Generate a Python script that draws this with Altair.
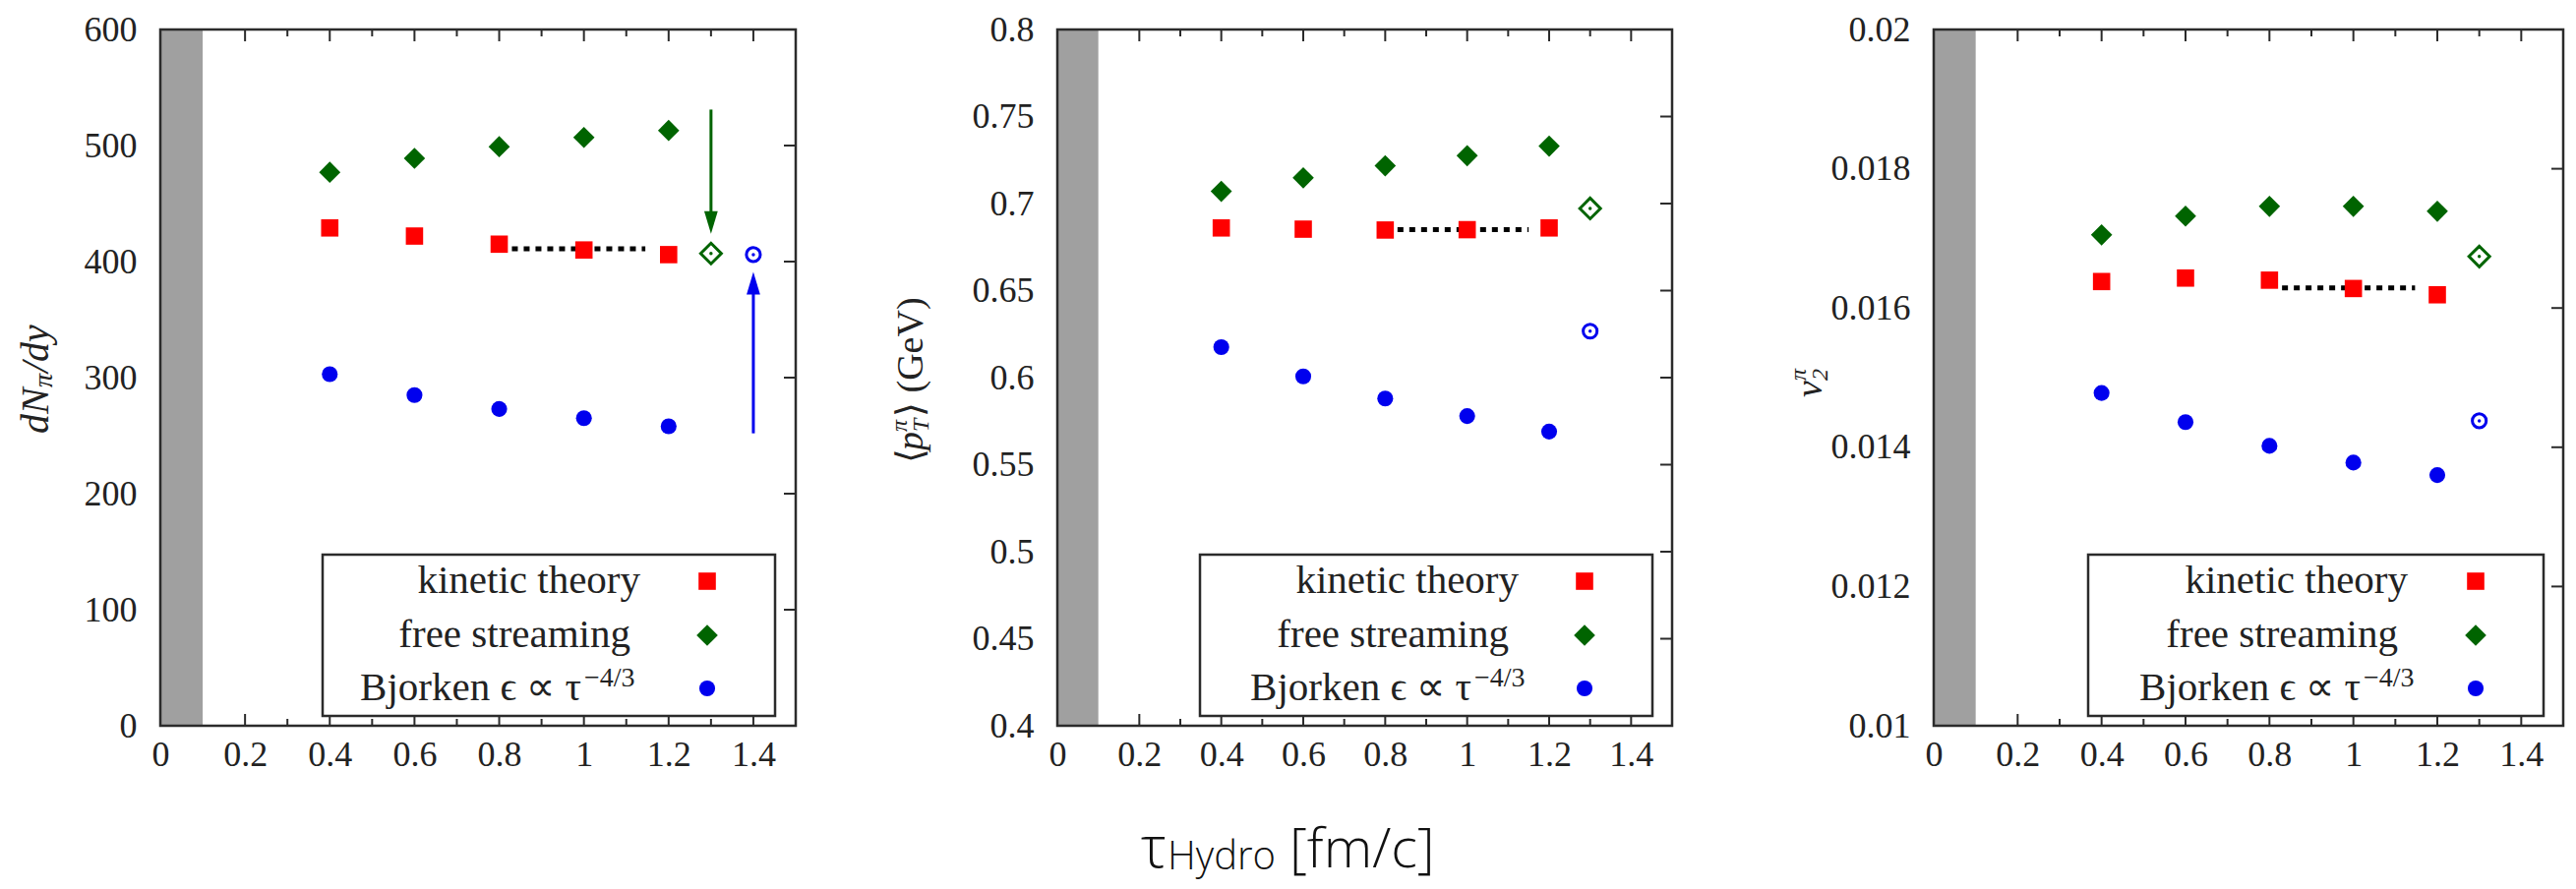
import altair as alt
import pandas as pd

# ---------------- data ----------------
TAU = [0.4, 0.6, 0.8, 1.0, 1.2]

DN_KINETIC = [429, 422, 415, 410, 406]
DN_FREE = [477, 489, 499, 507, 513]
DN_BJORKEN = [303, 285, 273, 265, 258]
DN_OPEN_FREE = [1.3, 407]
DN_OPEN_BJORKEN = [1.4, 406]
DN_DOTTED = [0.83, 1.145, 411]
DN_ARROW_X = [1.3, 1.4]
DN_ARROW_FROM = [531, 252]
DN_ARROW_TO = [424, 391]

PT_KINETIC = [0.686, 0.6853, 0.6848, 0.685, 0.686]
PT_FREE = [0.707, 0.7148, 0.7217, 0.7275, 0.733]
PT_BJORKEN = [0.6175, 0.6007, 0.588, 0.5779, 0.569]
PT_OPEN_FREE = [1.3, 0.6972]
PT_OPEN_BJORKEN = [1.3, 0.6267]
PT_DOTTED = [0.83, 1.15, 0.685]

V2_KINETIC = [0.01638, 0.01643, 0.0164, 0.01628, 0.01619]
V2_FREE = [0.01705, 0.01732, 0.01746, 0.01746, 0.01739]
V2_BJORKEN = [0.01478, 0.01436, 0.01402, 0.01378, 0.0136]
V2_OPEN_FREE = [1.3, 0.01674]
V2_OPEN_BJORKEN = [1.3, 0.01438]
V2_DOTTED = [0.83, 1.147, 0.01629]

X_LABELS = [0, 0.2, 0.4, 0.6, 0.8, 1.0, 1.2, 1.4]
X_MINOR = [0.3, 0.5, 0.7, 0.9, 1.1, 1.3]
X_DOMAIN = [0, 1.5]
BAND = [0, 0.1]

DN_TICKS = [0, 100, 200, 300, 400, 500, 600]
PT_TICKS = [0.4, 0.45, 0.5, 0.55, 0.6, 0.65, 0.7, 0.75, 0.8]
V2_TICKS = [0.01, 0.012, 0.014, 0.016, 0.018, 0.02]

LEGEND_LABELS = ["kinetic theory", "free streaming", "Bjorken ϵ ∝ τ"]
LEGEND_SUP = "−4/3"
CAPTION = ["τ", "Hydro", "[fm/c]"]

# ---------------- styling ----------------
SERIF = "Liberation Serif"
SANS = "Open Sans"
FRAME = "#2b2b2b"
TEXT = "#222222"
RED = "#ff0000"
GREEN = "#006400"
BLUE = "#0000ee"
H = 708
SPACING = 266
SQ, DI, CI = 310, 470, 260
W1, W2, W3 = 646, 625, 640


def one():
    return pd.DataFrame({"k": [0]})


def txt(x, y, s, size, align="left", baseline="alphabetic", italic=False,
        angle=0, font=SERIF, color=TEXT, weight=None):
    kw = dict(align=align, baseline=baseline, fontSize=size, font=font, color=color)
    if italic:
        kw["fontStyle"] = "italic"
    if angle:
        kw["angle"] = angle
    if weight:
        kw["fontWeight"] = weight
    return alt.Chart(one()).mark_text(**kw).encode(
        x=alt.value(x), y=alt.value(y), text=alt.value(s))


def build_panel(W, kin, free, bjo, open_free, open_bjo, dotted, yticks, yfmt,
                geom, title_layers, extra=None):
    xs = alt.Scale(domain=X_DOMAIN, nice=False, zero=False)
    ys = alt.Scale(domain=[yticks[0], yticks[-1]], nice=False, zero=False)
    xaxis = alt.Axis(values=X_LABELS, format=".1~f", ticks=False, tickSize=0,
                     domain=False, grid=False, labelFont=SERIF, labelFontSize=36,
                     labelColor=TEXT, labelPadding=12, labelFlush=False,
                     labelOverlap=False, title=None)
    yaxis = alt.Axis(values=yticks, format=yfmt, ticks=False, tickSize=0,
                     domain=False, grid=False, labelFont=SERIF, labelFontSize=36,
                     labelColor=TEXT, labelPadding=24, labelFlush=False,
                     labelOverlap=False, title=None)

    def X(f):
        return alt.X(f, type="quantitative", scale=xs, axis=xaxis)

    def Y(f):
        return alt.Y(f, type="quantitative", scale=ys, axis=yaxis)

    layers = []
    # inward ticks (bottom / top / right)
    major = pd.DataFrame({"t": X_LABELS[1:]})
    minor = pd.DataFrame({"t": X_MINOR})
    for df, ln in ((major, 12), (minor, 7)):
        layers.append(alt.Chart(df).mark_rule(color=FRAME, strokeWidth=2).encode(
            x=X("t"), y=alt.value(H), y2=alt.value(H - ln)))
        layers.append(alt.Chart(df).mark_rule(color=FRAME, strokeWidth=2).encode(
            x=X("t"), y=alt.value(0), y2=alt.value(ln)))
    layers.append(alt.Chart(pd.DataFrame({"v": yticks[1:-1]})).mark_rule(
        color=FRAME, strokeWidth=2).encode(
        y=Y("v"), x=alt.value(W), x2=alt.value(W - 12)))

    # grey band
    layers.append(alt.Chart(pd.DataFrame({"a": [BAND[0]], "b": [BAND[1]]})).mark_rect(
        color="#a0a0a0", opacity=1).encode(
        x=X("a"), x2=alt.X2("b"), y=alt.value(0), y2=alt.value(H)))

    # legend
    bx0, bx1, by0, by1, sym, tr, bjr, rows = geom
    layers.append(alt.Chart(one()).mark_rect(fill="white", stroke=FRAME, strokeWidth=2.5).encode(
        x=alt.value(bx0), x2=alt.value(bx1), y=alt.value(by0), y2=alt.value(by1)))
    layers.append(txt(tr, rows[0] + 12, LEGEND_LABELS[0], 41, align="right"))
    layers.append(txt(tr - 10, rows[1] + 12, LEGEND_LABELS[1], 41, align="right"))
    layers.append(txt(bjr, rows[2] + 12, LEGEND_LABELS[2], 41, align="right"))
    layers.append(txt(bjr + 3, rows[2] - 2, LEGEND_SUP, 28, align="left"))
    layers.append(alt.Chart(one()).mark_square(size=SQ, color=RED, opacity=1).encode(
        x=alt.value(sym), y=alt.value(rows[0])))
    layers.append(alt.Chart(one()).mark_point(shape="diamond", filled=True, size=DI,
                                              color=GREEN, opacity=1).encode(
        x=alt.value(sym), y=alt.value(rows[1])))
    layers.append(alt.Chart(one()).mark_circle(size=CI, color=BLUE, opacity=1).encode(
        x=alt.value(sym), y=alt.value(rows[2])))

    # dotted guide
    layers.append(alt.Chart(pd.DataFrame({"a": [dotted[0]], "b": [dotted[1]], "c": [dotted[2]]}))
                  .mark_rule(color="black", strokeWidth=5, strokeDash=[6, 6]).encode(
        x=X("a"), x2=alt.X2("b"), y=Y("c")))

    # data points
    layers.append(alt.Chart(pd.DataFrame({"t": TAU, "v": kin})).mark_square(
        size=SQ, color=RED, opacity=1).encode(x=X("t"), y=Y("v")))
    layers.append(alt.Chart(pd.DataFrame({"t": TAU, "v": free})).mark_point(
        shape="diamond", filled=True, size=DI, color=GREEN, opacity=1).encode(x=X("t"), y=Y("v")))
    layers.append(alt.Chart(pd.DataFrame({"t": TAU, "v": bjo})).mark_circle(
        size=CI, color=BLUE, opacity=1).encode(x=X("t"), y=Y("v")))

    of = pd.DataFrame({"t": [open_free[0]], "v": [open_free[1]]})
    ob = pd.DataFrame({"t": [open_bjo[0]], "v": [open_bjo[1]]})
    layers.append(alt.Chart(of).mark_point(shape="diamond", filled=False, size=440,
                                           strokeWidth=3, color=GREEN, opacity=1).encode(
        x=X("t"), y=Y("v")))
    layers.append(alt.Chart(of).mark_circle(size=12, color=GREEN, opacity=1).encode(
        x=X("t"), y=Y("v")))
    layers.append(alt.Chart(ob).mark_point(shape="circle", filled=False, size=200,
                                           strokeWidth=3, color=BLUE, opacity=1).encode(
        x=X("t"), y=Y("v")))
    layers.append(alt.Chart(ob).mark_circle(size=12, color=BLUE, opacity=1).encode(
        x=X("t"), y=Y("v")))

    if extra:
        layers.extend(extra(X, Y))

    # frame
    layers.append(alt.Chart(one()).mark_rect(filled=False, color=FRAME, strokeWidth=2.5).encode(
        x=alt.value(0), x2=alt.value(W), y=alt.value(0), y2=alt.value(H)))

    layers.extend(title_layers)
    return alt.layer(*layers).properties(width=W, height=H)


def arrows(X, Y):
    out = []
    heads = ["M -0.6 -2 L 0.6 -2 L 0 0 Z", "M -0.6 2 L 0.6 2 L 0 0 Z"]
    colors = [GREEN, BLUE]
    offsets = [-10, 10]
    for i in range(2):
        df = pd.DataFrame({"x": [DN_ARROW_X[i]], "a": [DN_ARROW_FROM[i]], "b": [DN_ARROW_TO[i]]})
        out.append(alt.Chart(df).mark_rule(color=colors[i], strokeWidth=3,
                                           y2Offset=offsets[i]).encode(
            x=X("x"), y=Y("a"), y2=alt.Y2("b")))
        out.append(alt.Chart(df).mark_point(shape=heads[i], filled=True, size=529,
                                            color=colors[i], opacity=1, strokeWidth=0).encode(
            x=X("x"), y=Y("b")))
    return out


title1 = [
    txt(-126, 411, "dN", 40, baseline="middle", italic=True, angle=270),
    txt(-118, 364, "π", 28, baseline="middle", italic=True, angle=270),
    txt(-126, 349, "/dy", 40, baseline="middle", italic=True, angle=270),
]
title2 = [
    txt(-148, 441, "⟨", 38, baseline="middle", angle=270),
    txt(-148, 428, "p", 38, baseline="middle", italic=True, angle=270),
    txt(-138, 409, "T", 24, baseline="middle", italic=True, angle=270),
    txt(-160, 409, "π", 24, baseline="middle", italic=True, angle=270),
    txt(-148, 394, "⟩ (GeV)", 38, baseline="middle", angle=270),
    # shared x-axis caption below the middle panel
    txt(85, H + 144, CAPTION[0], 58, font=SANS, weight=300, color="#111111"),
    txt(112, H + 146, CAPTION[1], 40, font=SANS, weight=300, color="#111111"),
    txt(236, H + 144, CAPTION[2], 56, font=SANS, weight=300, color="#111111"),
]
title3 = [
    txt(-125, 374, "v", 38, baseline="middle", italic=True, angle=270),
    txt(-115, 357, "2", 24, baseline="middle", italic=True, angle=270),
    txt(-137, 357, "π", 24, baseline="middle", italic=True, angle=270),
]

ROWS = (561, 616, 670)
geom1 = (165, 625, 534, 698, 556, 488, 428, ROWS)
geom2 = (145, 605, 534, 698, 536, 469, 421, ROWS)
geom3 = (157, 620, 534, 698, 551, 482, 434, ROWS)

p1 = build_panel(W1, DN_KINETIC, DN_FREE, DN_BJORKEN, DN_OPEN_FREE, DN_OPEN_BJORKEN,
                 DN_DOTTED, DN_TICKS, "d", geom1, title1, extra=arrows)
p2 = build_panel(W2, PT_KINETIC, PT_FREE, PT_BJORKEN, PT_OPEN_FREE, PT_OPEN_BJORKEN,
                 PT_DOTTED, PT_TICKS, ".2~f", geom2, title2)
p3 = build_panel(W3, V2_KINETIC, V2_FREE, V2_BJORKEN, V2_OPEN_FREE, V2_OPEN_BJORKEN,
                 V2_DOTTED, V2_TICKS, ".3~f", geom3, title3)

chart = alt.hconcat(p1, p2, p3, spacing=SPACING, bounds="flush").properties(
    padding={"left": 16, "top": 11, "right": 0, "bottom": 8},
    background="white",
).configure_view(stroke="transparent")

chart.save("out.html", embed_options={"renderer": "svg", "actions": False})
